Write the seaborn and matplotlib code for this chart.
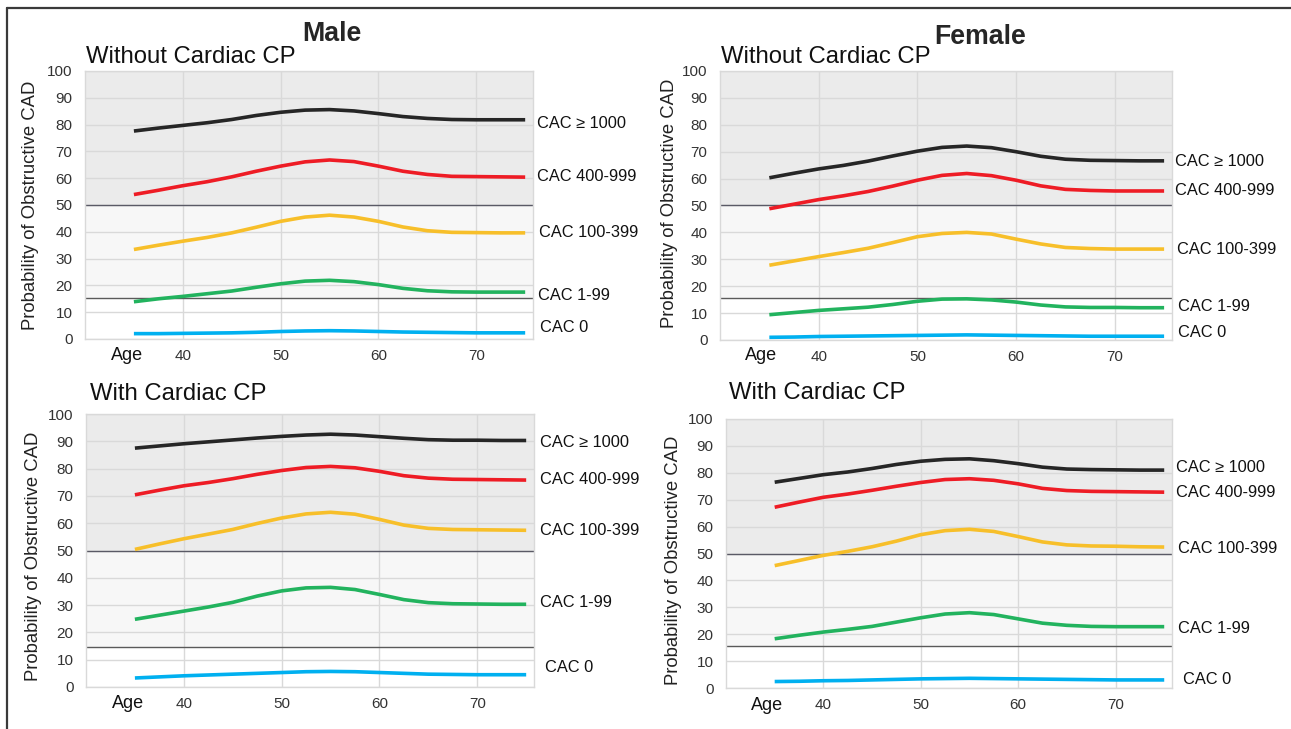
import numpy as np
import pandas as pd
import matplotlib
matplotlib.use("Agg")
import matplotlib.pyplot as plt
import matplotlib.transforms as mtransforms
from matplotlib.lines import Line2D
import seaborn as sns

ages = [35, 37.5, 40, 42.5, 45, 47.5, 50, 52.5, 55, 57.5, 60, 62.5, 65, 67.5, 70, 72.5, 75]

series_names = ["CAC \u2265 1000", "CAC 400-999", "CAC 100-399", "CAC 1-99", "CAC 0"]
series_colors = ["#262626", "#ee1c25", "#f7bf2a", "#22b35e", "#00b0f0"]

# probability of obstructive CAD (%), one row per CAC group
male_without_cp = [
    [77.6, 78.7, 79.7, 80.7, 81.9, 83.4, 84.6, 85.4, 85.6, 85.1, 84.1, 83.0, 82.3, 81.9, 81.8, 81.8, 81.8],
    [53.9, 55.5, 57.2, 58.7, 60.5, 62.6, 64.5, 66.1, 66.8, 66.2, 64.5, 62.6, 61.4, 60.7, 60.6, 60.5, 60.4],
    [33.4, 35.0, 36.5, 37.9, 39.6, 41.7, 43.9, 45.5, 46.2, 45.5, 43.9, 41.8, 40.4, 39.8, 39.7, 39.6, 39.6],
    [13.9, 15.0, 15.9, 16.9, 17.9, 19.3, 20.6, 21.6, 21.9, 21.4, 20.3, 18.9, 18.0, 17.6, 17.5, 17.5, 17.5],
    [2.0, 2.0, 2.1, 2.2, 2.3, 2.5, 2.8, 3.0, 3.1, 3.0, 2.8, 2.6, 2.5, 2.4, 2.3, 2.3, 2.3],
]
female_without_cp = [
    [60.3, 62.0, 63.6, 64.9, 66.5, 68.4, 70.2, 71.6, 72.1, 71.5, 70.0, 68.3, 67.2, 66.8, 66.7, 66.6, 66.6],
    [48.8, 50.5, 52.2, 53.6, 55.2, 57.2, 59.4, 61.2, 61.9, 61.1, 59.4, 57.3, 56.0, 55.6, 55.4, 55.4, 55.4],
    [27.8, 29.4, 31.0, 32.5, 34.1, 36.2, 38.4, 39.6, 40.0, 39.4, 37.5, 35.7, 34.4, 34.0, 33.8, 33.8, 33.8],
    [9.4, 10.2, 11.0, 11.6, 12.2, 13.2, 14.4, 15.2, 15.3, 14.9, 14.1, 13.0, 12.3, 12.1, 12.1, 12.0, 12.0],
    [1.0, 1.1, 1.3, 1.4, 1.5, 1.6, 1.7, 1.8, 1.9, 1.8, 1.7, 1.6, 1.5, 1.4, 1.4, 1.4, 1.4],
]
male_with_cp = [
    [87.5, 88.3, 89.1, 89.8, 90.5, 91.2, 91.8, 92.3, 92.6, 92.3, 91.7, 91.1, 90.6, 90.4, 90.4, 90.3, 90.3],
    [70.4, 72.1, 73.7, 74.9, 76.3, 77.9, 79.3, 80.4, 80.8, 80.3, 79.0, 77.4, 76.5, 76.1, 76.0, 75.9, 75.8],
    [50.4, 52.4, 54.3, 56.0, 57.7, 59.9, 61.9, 63.4, 64.0, 63.3, 61.4, 59.3, 58.1, 57.7, 57.6, 57.5, 57.4],
    [24.8, 26.3, 27.8, 29.3, 31.0, 33.3, 35.2, 36.3, 36.5, 35.7, 33.9, 32.0, 30.9, 30.5, 30.4, 30.3, 30.3],
    [3.3, 3.7, 4.1, 4.4, 4.7, 5.0, 5.3, 5.6, 5.7, 5.6, 5.3, 5.0, 4.7, 4.6, 4.5, 4.5, 4.5],
]
female_with_cp = [
    [76.5, 77.9, 79.3, 80.3, 81.6, 83.1, 84.3, 85.0, 85.2, 84.5, 83.4, 82.1, 81.4, 81.2, 81.1, 81.0, 81.0],
    [67.2, 69.1, 70.9, 72.1, 73.5, 75.0, 76.4, 77.5, 77.8, 77.2, 75.9, 74.2, 73.4, 73.1, 73.0, 72.9, 72.8],
    [45.5, 47.4, 49.3, 50.8, 52.5, 54.6, 57.0, 58.5, 59.0, 58.2, 56.3, 54.3, 53.2, 52.8, 52.7, 52.5, 52.4],
    [18.3, 19.6, 20.8, 21.8, 22.9, 24.5, 26.1, 27.5, 28.0, 27.3, 25.7, 24.1, 23.3, 22.9, 22.8, 22.8, 22.8],
    [2.4, 2.5, 2.7, 2.8, 3.0, 3.2, 3.4, 3.5, 3.6, 3.5, 3.4, 3.3, 3.2, 3.1, 3.0, 3.0, 3.0],
]

# lower band boundary (dark line) per panel
low_cut = [15.3, 15.7, 14.7, 15.7]

# where the group labels sit on the right (y in data units)
label_y = [
    [80.4, 60.5, 39.6, 16.3, 4.4],
    [66.2, 55.4, 33.7, 12.6, 2.7],
    [89.4, 76.1, 57.3, 30.8, 7.1],
    [81.8, 72.5, 51.8, 22.3, 3.1],
]
label_dx = [
    [4, 4, 6, 5, 7],
    [3, 3, 5, 6, 6],
    [6, 6, 6, 6, 11],
    [4, 4, 6, 6, 11],
]

subtitles = ["Without Cardiac CP", "Without Cardiac CP", "With Cardiac CP", "With Cardiac CP"]


def main():
    sns.set_style("white")
    plt.rcParams['font.family'] = ['Liberation Sans', 'DejaVu Sans']

    W, H = 1291, 729
    fig = plt.figure(figsize=(W / 100, H / 100), dpi=100)

    def px(x, y):
        return x / W, 1 - y / H

    # axes boxes in pixels: left, top, right, bottom
    boxes = [(85, 71, 533, 339), (720, 71, 1172, 340),
             (86, 414, 534, 687), (726, 419, 1172, 688)]
    data = [male_without_cp, female_without_cp, male_with_cp, female_with_cp]

    sub_pos = [(86, 57), (721, 57), (90, 394), (729, 393)]
    age_pos = [(127, 356), (761, 356), (128, 704), (767, 705)]
    ylab_pos = [(31, 205), (669, 203), (34, 556), (673, 560)]

    for i, (l, t, r, b) in enumerate(boxes):
        ax = fig.add_axes([l / W, 1 - b / H, (r - l) / W, (b - t) / H])
        ax.set_axisbelow(True)

        rows = []
        for name, vals in zip(series_names, data[i]):
            for a, v in zip(ages, vals):
                rows.append({"Age": a, "Prob": v, "Group": name})
        df = pd.DataFrame(rows)

        ax.axhspan(50, 100, color="#ebebeb", zorder=0.1, lw=0)
        ax.axhspan(low_cut[i], 50, color="#f7f7f7", zorder=0.1, lw=0)
        ax.grid(True, color="#d9d9d9", lw=1)
        ax.axhline(50, color="#5a5a66", lw=1, zorder=1)
        ax.axhline(low_cut[i], color="#5a5a5a", lw=1, zorder=1)

        sns.lineplot(data=df, x="Age", y="Prob", hue="Group",
                     hue_order=series_names, palette=series_colors,
                     linewidth=2.6, legend=False, ax=ax, zorder=3)
        for ln in ax.get_lines():
            ln.set_solid_joinstyle("round")
            ln.set_solid_capstyle("butt")

        ax.set_xlim(30, 75.8)
        ax.set_ylim(0, 100)
        ax.set_xticks([40, 50, 60, 70])
        ax.set_yticks(np.arange(0, 101, 10))
        ax.tick_params(length=0, labelsize=11, colors="#333333")
        ax.tick_params(axis="y", pad=9)
        ax.tick_params(axis="x", pad=7)
        ax.set_xlabel("")
        ax.set_ylabel("")
        for s in ax.spines.values():
            s.set_color("#d9d9d9")
            s.set_linewidth(1)

        trans = mtransforms.blended_transform_factory(ax.transAxes, ax.transData)
        for j, name in enumerate(series_names):
            ax.annotate(name, xy=(1, label_y[i][j]), xycoords=trans,
                        xytext=(label_dx[i][j] * 0.72, 0), textcoords="offset points",
                        ha="left", va="center", fontsize=11.8, color="#111111",
                        annotation_clip=False)

        fig.text(*px(*sub_pos[i]), subtitles[i], ha="left", va="center",
                 fontsize=17.2, color="#111111")
        fig.text(*px(*age_pos[i]), "Age", ha="center", va="center",
                 fontsize=13, color="#111111")
        fig.text(*px(*ylab_pos[i]), "Probability of Obstructive CAD",
                 rotation=90, ha="center", va="center", fontsize=13.3,
                 color="#222222")

    fig.text(*px(332, 34), "Male", ha="center", va="center", fontsize=19.3,
             fontweight="bold")
    fig.text(*px(980, 37), "Female", ha="center", va="center", fontsize=19.3,
             fontweight="bold")

    # outer frame (runs off the right and bottom edges)
    x0, y0 = px(6.5, 7.5)
    fig.add_artist(Line2D([x0, x0], [0, y0], color="#3a3a3a", lw=1.6))
    fig.add_artist(Line2D([x0, 1], [y0, y0], color="#3a3a3a", lw=1.6))

    fig.savefig("out.png", dpi=100)


if __name__ == "__main__":
    main()
